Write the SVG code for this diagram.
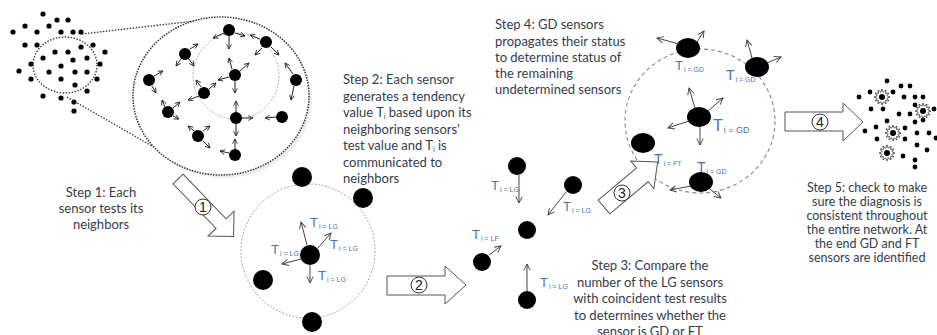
<svg xmlns="http://www.w3.org/2000/svg" width="937" height="335" viewBox="0 0 937 335">
<defs>
<style>
.txt{font-family:Lato,"Open Sans","Liberation Sans",sans-serif;font-size:13px;fill:#333d4d}
.lab{font-family:"Liberation Sans",Arial,sans-serif;fill:#4a72b0}
.sub{font-size:7px}
.dot{fill:#000}
.ar{stroke:#222;stroke-width:1;fill:none;marker-end:url(#ah)}
.ar2{stroke:#444;stroke-width:1;fill:none;marker-end:url(#ah2)}
.blk{fill:#fff;stroke:#555;stroke-width:1}
.num{fill:#fff;stroke:#333;stroke-width:1}
.numt{font-family:"Liberation Sans",Arial,sans-serif;font-size:14px;fill:#222;text-anchor:middle}
</style>
<marker id="ah" viewBox="0 0 10 10" refX="9" refY="5" markerWidth="6" markerHeight="6" orient="auto" markerUnits="userSpaceOnUse"><path d="M1,1 L9,5 L1,9" fill="none" stroke="#222" stroke-width="1.4"/></marker>
<marker id="ah2" viewBox="0 0 10 10" refX="9" refY="5" markerWidth="8" markerHeight="8" orient="auto" markerUnits="userSpaceOnUse"><path d="M1,1 L9,5 L1,9" fill="none" stroke="#444" stroke-width="1.2"/></marker>
<g id="star"><polygon points="8,0 4.83,1.29 6.93,4 3.54,3.54 4,6.93 1.29,4.83 0,8 -1.29,4.83 -4,6.93 -3.54,3.54 -6.93,4 -4.83,1.29 -8,0 -4.83,-1.29 -6.93,-4 -3.54,-3.54 -4,-6.93 -1.29,-4.83 0,-8 1.29,-4.83 4,-6.93 3.54,-3.54 6.93,-4 4.83,-1.29" fill="#fff" stroke="#333" stroke-width="0.8"/><circle r="3" fill="#000"/></g>
</defs>
<rect width="937" height="335" fill="#fff"/>

<!-- Step 1: sensor field -->
<g id="field1">
<g class="dot">
<circle cx="43" cy="14" r="2.6"/><circle cx="57" cy="20" r="2.6"/><circle cx="68" cy="20" r="2.6"/><circle cx="25" cy="26" r="2.6"/><circle cx="49" cy="26" r="2.6"/>
<circle cx="13" cy="32" r="2.6"/><circle cx="37" cy="32" r="2.6"/><circle cx="61" cy="32" r="2.6"/><circle cx="73" cy="32" r="2.6"/><circle cx="81" cy="32" r="2.6"/>
<circle cx="25" cy="45" r="2.6"/><circle cx="37" cy="45" r="2.6"/><circle cx="81" cy="47" r="2.6"/><circle cx="93" cy="45" r="2.6"/>
<circle cx="55" cy="52" r="2.6"/><circle cx="68" cy="52" r="2.6"/><circle cx="105" cy="52" r="2.6"/>
<circle cx="43" cy="58" r="2.6"/><circle cx="73" cy="60" r="2.6"/><circle cx="87" cy="58" r="2.6"/>
<circle cx="31" cy="64" r="2.6"/><circle cx="61" cy="66" r="2.6"/><circle cx="100" cy="64" r="2.6"/>
<circle cx="19" cy="71" r="2.6"/><circle cx="49" cy="72" r="2.6"/><circle cx="75" cy="72" r="2.6"/><circle cx="87" cy="72" r="2.6"/>
<circle cx="31" cy="79" r="2.6"/><circle cx="61" cy="79" r="2.6"/><circle cx="97" cy="79" r="2.6"/>
<circle cx="75" cy="85" r="2.6"/><circle cx="87" cy="91" r="2.6"/><circle cx="43" cy="96" r="2.6"/><circle cx="61" cy="98" r="2.6"/>
<circle cx="74" cy="102" r="2.6"/><circle cx="74" cy="111" r="2.6"/>
</g>
<ellipse cx="65" cy="65" rx="32" ry="28" fill="none" stroke="#333" stroke-width="1.3" stroke-dasharray="1.5,1.5"/>
</g>

<!-- zoom lines and big ellipse -->
<g id="zoom">
<line x1="82" y1="34" x2="212" y2="19" stroke="#333" stroke-width="1.3" stroke-dasharray="1.5,1.5"/>
<line x1="67" y1="97" x2="152" y2="146" stroke="#333" stroke-width="1.3" stroke-dasharray="1.5,1.5"/>
<ellipse cx="224" cy="99" rx="88" ry="79" fill="#e8e8e8" opacity="0.8"/>
<ellipse cx="221" cy="96" rx="88" ry="79" fill="#fff" stroke="#333" stroke-width="1.5" stroke-dasharray="1.5,1.2"/>
<circle cx="236" cy="76" r="43" fill="none" stroke="#999" stroke-width="0.8" stroke-dasharray="2,1.5"/>
</g>
<g id="bigNodes" class="dot">
<circle id="n1" cx="229" cy="30" r="6"/><circle id="n2" cx="266" cy="42" r="6"/><circle id="n3" cx="185" cy="54" r="6"/>
<circle id="n4" cx="149" cy="80" r="6"/><circle id="n5" cx="235" cy="75" r="6"/><circle id="n6" cx="296" cy="80" r="6"/>
<circle id="n7" cx="204" cy="93" r="6"/><circle id="n8" cx="168" cy="112" r="6"/><circle id="n9" cx="236" cy="118" r="6"/>
<circle id="n10" cx="282" cy="117" r="6"/><circle id="n11" cx="198" cy="136" r="6"/><circle id="n12" cx="235" cy="155" r="6"/>
</g>

<!-- Step 2 scene -->
<g id="scene2">
<circle cx="308" cy="251" r="67" fill="none" stroke="#999" stroke-width="0.9" stroke-dasharray="2,1.5"/>
<g id="s2nodes" class="dot">
<circle cx="302" cy="177" r="10"/><circle cx="363" cy="198" r="10"/><circle cx="263" cy="280" r="10"/><circle cx="312" cy="322" r="10"/><circle cx="310" cy="255" r="10"/>
</g>
<text class="lab" x="310" y="227" font-size="13">T<tspan class="sub" dx="1" dy="2">i = LG</tspan></text>
<text class="lab" x="330" y="249" font-size="13">T<tspan class="sub" dx="1" dy="2">i = LG</tspan></text>
<text class="lab" x="271" y="254" font-size="13">T<tspan class="sub" dx="1" dy="2">i = LG</tspan></text>
<text class="lab" x="318" y="280" font-size="13">T<tspan class="sub" dx="1" dy="2">i = LG</tspan></text>
</g>

<!-- Step 3 scene -->
<g id="scene3">
<g class="dot">
<circle cx="517" cy="166" r="9"/><circle cx="573" cy="185" r="9"/><circle cx="527" cy="230" r="9"/><circle cx="482" cy="262" r="9"/><circle cx="527" cy="300" r="9"/>
</g>
<text class="lab" x="491" y="190" font-size="13">T<tspan class="sub" dx="1" dy="2">i = LG</tspan></text>
<text class="lab" x="563" y="211" font-size="13">T<tspan class="sub" dx="1" dy="2">i = LG</tspan></text>
<text class="lab" x="472" y="239" font-size="13">T<tspan class="sub" dx="1" dy="2">i = LF</tspan></text>
<text class="lab" x="540" y="287" font-size="13">T<tspan class="sub" dx="1" dy="2">i = LG</tspan></text>
</g>

<!-- Step 4 scene -->
<g id="scene4">
<ellipse cx="700" cy="121" rx="75" ry="72" fill="none" stroke="#888" stroke-width="1.1" stroke-dasharray="4,3"/>
<g class="dot">
<ellipse cx="688" cy="48" rx="12" ry="10"/><ellipse cx="757" cy="67" rx="12" ry="10"/><ellipse cx="699" cy="117" rx="12" ry="10"/><ellipse cx="643" cy="143" rx="12" ry="10"/><ellipse cx="701" cy="182" rx="12" ry="10"/>
</g>
<text class="lab" x="675" y="70" font-size="13">T<tspan class="sub" dx="1" dy="2">i = GD</tspan></text>
<text class="lab" x="726" y="80" font-size="14">T<tspan class="sub" dx="1" dy="2" font-size="8">i = GD</tspan></text>
<text class="lab" x="713" y="131" font-size="16">T<tspan dx="1" dy="2" font-size="9">i = GD</tspan></text>
<text class="lab" x="654" y="164" font-size="14">T<tspan class="sub" dx="1" dy="2" font-size="8">i = FT</tspan></text>
<text class="lab" x="697" y="172" font-size="14">T<tspan class="sub" dx="1" dy="2" font-size="8">i = GD</tspan></text>
</g>

<!-- Step 5 field -->
<g id="field5">
<g class="dot">
<circle cx="887" cy="81" r="2.4"/><circle cx="901" cy="86" r="2.4"/><circle cx="910" cy="86" r="2.4"/><circle cx="870" cy="92" r="2.4"/><circle cx="859" cy="97" r="2.4"/>
<circle cx="893" cy="92" r="2.4"/><circle cx="904" cy="97" r="2.4"/><circle cx="915" cy="97" r="2.4"/><circle cx="923" cy="97" r="2.4"/>
<circle cx="871" cy="109" r="2.4"/><circle cx="883" cy="109" r="2.4"/><circle cx="915" cy="105" r="2.4"/><circle cx="934" cy="109" r="2.4"/>
<circle cx="899" cy="114" r="2.4"/><circle cx="910" cy="114" r="2.4"/><circle cx="923" cy="120" r="2.4"/><circle cx="887" cy="121" r="2.4"/><circle cx="915" cy="122" r="2.4"/>
<circle cx="876" cy="127" r="2.4"/><circle cx="865" cy="131" r="2.4"/><circle cx="905" cy="128" r="2.4"/><circle cx="917" cy="133" r="2.4"/><circle cx="929" cy="133" r="2.4"/>
<circle cx="877" cy="139" r="2.4"/><circle cx="905" cy="139" r="2.4"/><circle cx="917" cy="145" r="2.4"/><circle cx="927" cy="150" r="2.4"/>
<circle cx="903" cy="156" r="2.4"/><circle cx="915" cy="160" r="2.4"/><circle cx="915" cy="167" r="2.4"/><circle cx="936" cy="138" r="2.4"/>
</g>
<use href="#star" x="882" y="97"/><use href="#star" x="923" y="111"/><use href="#star" x="893" y="133"/><use href="#star" x="887" y="153"/>
</g>

<!-- block arrows -->
<g id="arrow1">
<polygon class="blk" transform="translate(178,179) rotate(46)" points="0,-7 62,-7 62,-18 80,0 62,18 62,7 0,7"/>
<circle class="num" cx="203" cy="207" r="8"/><text class="numt" x="203" y="212">1</text>
</g>
<g id="arrow2">
<polygon class="blk" points="387,276 445,276 445,266 466,285 445,304 445,295 387,295"/>
<circle class="num" cx="419" cy="285" r="8"/><text class="numt" x="419" y="290">2</text>
</g>
<g id="arrow3">
<polygon class="blk" transform="translate(604,207) rotate(-40)" points="0,-9 50,-9 50,-18 70,0 50,18 50,9 0,9"/>
<circle class="num" cx="622" cy="193" r="8"/><text class="numt" x="622" y="198">3</text>
</g>
<g id="arrow4">
<polygon class="blk" points="785,112 843,112 843,103 863,122 843,141 843,131 785,131"/>
<circle class="num" cx="820" cy="122" r="8"/><text class="numt" x="820" y="127">4</text>
</g>

<!-- connectors (tendency arrows) -->
<g id="connectors">
<line class="ar" x1="224" y1="33" x2="213" y2="38"/><line class="ar" x1="229" y1="36" x2="229" y2="49"/><line class="ar" x1="235" y1="33" x2="245" y2="36"/>
<line class="ar" x1="260" y1="39" x2="250" y2="35"/><line class="ar" x1="262" y1="48" x2="255" y2="55"/><line class="ar" x1="271" y1="47" x2="279" y2="55"/>
<line class="ar" x1="190" y1="49" x2="198" y2="44"/><line class="ar" x1="181" y1="59" x2="176" y2="66"/><line class="ar" x1="189" y1="59" x2="194" y2="66"/>
<line class="ar" x1="154" y1="76" x2="163" y2="71"/><line class="ar" x1="152" y1="86" x2="156" y2="93"/>
<line class="ar" x1="232" y1="69" x2="229" y2="58"/><line class="ar" x1="240" y1="71" x2="249" y2="63"/><line class="ar" x1="229" y1="77" x2="218" y2="80"/><line class="ar" x1="235" y1="81" x2="235" y2="93"/>
<line class="ar" x1="293" y1="74" x2="285" y2="63"/><line class="ar" x1="294" y1="86" x2="291" y2="100"/>
<line class="ar" x1="201" y1="87" x2="196" y2="80"/><line class="ar" x1="209" y1="89" x2="216" y2="83"/><line class="ar" x1="199" y1="96" x2="188" y2="100"/>
<line class="ar" x1="165" y1="107" x2="162" y2="100"/><line class="ar" x1="173" y1="108" x2="180" y2="102"/><line class="ar" x1="173" y1="116" x2="179" y2="119"/>
<line class="ar" x1="236" y1="112" x2="236" y2="101"/><line class="ar" x1="242" y1="118" x2="253" y2="118"/><line class="ar" x1="236" y1="124" x2="236" y2="136"/>
<line class="ar" x1="276" y1="117" x2="265" y2="118"/>
<line class="ar" x1="194" y1="131" x2="188" y2="126"/><line class="ar" x1="203" y1="131" x2="210" y2="126"/><line class="ar" x1="203" y1="141" x2="210" y2="148"/>
<line class="ar" x1="235" y1="149" x2="235" y2="139"/><line class="ar" x1="229" y1="153" x2="220" y2="151"/>
<line class="ar2" x1="307" y1="245" x2="301" y2="222"/><line class="ar2" x1="318" y1="248" x2="331" y2="233"/><line class="ar2" x1="301" y1="259" x2="282" y2="264"/><line class="ar2" x1="310" y1="265" x2="310" y2="283"/>
<line class="ar2" x1="519" y1="175" x2="519" y2="203"/><line class="ar2" x1="566" y1="192" x2="548" y2="215"/><line class="ar2" x1="489" y1="255" x2="501" y2="246"/><line class="ar2" x1="527" y1="291" x2="527" y2="264"/>
<line class="ar2" x1="679" y1="44" x2="657" y2="38"/><line class="ar2" x1="697" y1="42" x2="704" y2="31"/>
<line class="ar2" x1="752" y1="58" x2="747" y2="40"/><line class="ar2" x1="767" y1="63" x2="781" y2="57"/>
<line class="ar2" x1="695" y1="108" x2="689" y2="88"/><line class="ar2" x1="708" y1="111" x2="723" y2="98"/><line class="ar2" x1="689" y1="121" x2="668" y2="128"/><line class="ar2" x1="700" y1="127" x2="700" y2="145"/>
<line class="ar2" x1="691" y1="186" x2="670" y2="190"/><line class="ar2" x1="710" y1="189" x2="721" y2="198"/>
</g>

<!-- texts -->
<g id="texts" class="txt">
<text text-anchor="middle"><tspan x="101" y="197">Step 1: Each</tspan><tspan x="101" y="213">sensor tests its</tspan><tspan x="101" y="229">neighbors</tspan></text>
<text x="343" y="84">Step 2: Each sensor</text>
<text x="343" y="101">generates a tendency</text>
<text x="343" y="117">value T<tspan font-size="7" dy="2">i</tspan><tspan dy="-2"> based upon its</tspan></text>
<text x="343" y="134">neighboring sensors’</text>
<text x="343" y="150">test value and T<tspan font-size="7" dy="2">i</tspan><tspan dy="-2"> is</tspan></text>
<text x="343" y="167">communicated to</text>
<text x="343" y="183">neighbors</text>
<text text-anchor="middle"><tspan x="650" y="270">Step 3: Compare the</tspan><tspan x="650" y="287">number of the LG sensors</tspan><tspan x="650" y="303">with coincident test results</tspan><tspan x="650" y="320">to determines whether the</tspan><tspan x="650" y="336">sensor is GD or FT</tspan></text>
<text><tspan x="495" y="29">Step 4: GD sensors</tspan><tspan x="495" y="46">propagates their status</tspan><tspan x="495" y="62">to determine status of</tspan><tspan x="495" y="78">the remaining</tspan><tspan x="495" y="94">undetermined sensors</tspan></text>
<text text-anchor="middle" font-size="12.5"><tspan x="867" y="192">Step 5: check to make</tspan><tspan x="867" y="206">sure the diagnosis is</tspan><tspan x="867" y="220">consistent throughout</tspan><tspan x="867" y="234">the entire network. At</tspan><tspan x="867" y="248">the end GD and FT</tspan><tspan x="867" y="262">sensors are identified</tspan></text>
</g>
</svg>
